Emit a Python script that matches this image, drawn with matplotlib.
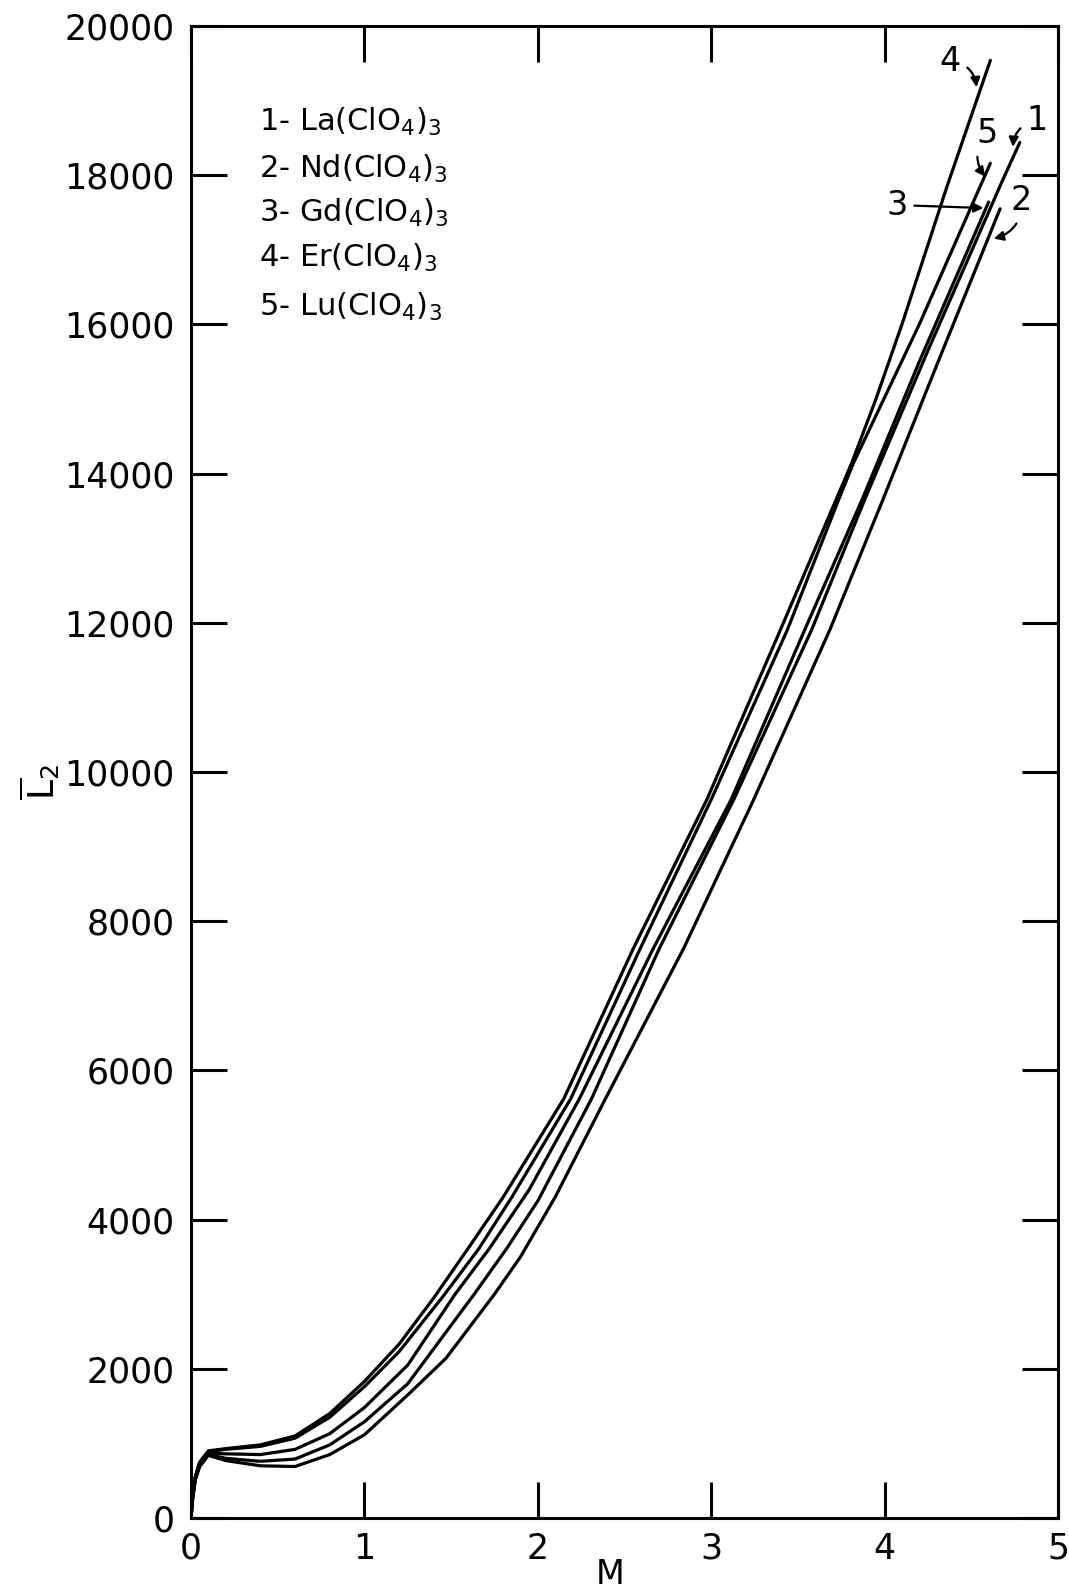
import matplotlib
matplotlib.use("Agg")
import matplotlib.pyplot as plt

plt.rcParams['font.family'] = ['DejaVu Sans']
plt.rcParams['mathtext.fontset'] = 'dejavusans'

# values (M vs partial molal L2)
m_la = [0, 0.01, 0.025, 0.05, 0.1, 0.2, 0.4, 0.6, 0.8, 1.0, 1.25, 1.63, 1.82, 2.0, 2.31, 2.70, 3.13, 3.58, 3.885, 4.25, 4.68, 4.78]
l2_la = [0, 280, 520, 700, 850, 800, 760, 790, 980, 1290, 1800, 2990, 3610, 4250, 5620, 7630, 9630, 11910, 13650, 15650, 17930, 18440]

m_nd = [0, 0.01, 0.025, 0.05, 0.1, 0.2, 0.4, 0.6, 0.8, 1.0, 1.25, 1.47, 1.75, 1.90, 2.1, 2.39, 2.84, 3.245, 3.685, 3.99, 4.3, 4.666]
l2_nd = [0, 270, 510, 690, 840, 770, 700, 690, 850, 1115, 1650, 2140, 3000, 3500, 4300, 5620, 7630, 9630, 11910, 13650, 15450, 17550]

m_gd = [0, 0.01, 0.025, 0.05, 0.1, 0.2, 0.4, 0.6, 0.8, 1.0, 1.25, 1.52, 1.72, 1.95, 2.24, 2.665, 3.115, 3.54, 3.87, 4.2, 4.60]
l2_gd = [0, 290, 530, 720, 870, 860, 850, 920, 1130, 1480, 2050, 2990, 3610, 4400, 5620, 7630, 9630, 11910, 13650, 15500, 17640]

m_er = [0, 0.01, 0.025, 0.05, 0.1, 0.2, 0.4, 0.6, 0.8, 1.0, 1.2, 1.4, 1.6, 1.8, 2.15, 2.55, 2.975, 3.40, 3.72, 3.81, 3.95, 4.1, 4.36, 4.61]
l2_er = [0, 310, 560, 750, 900, 930, 980, 1100, 1400, 1830, 2330, 2950, 3620, 4300, 5620, 7630, 9630, 11910, 13650, 14140, 15000, 16000, 17850, 19540]

m_lu = [0, 0.01, 0.025, 0.05, 0.1, 0.2, 0.4, 0.6, 0.8, 1.0, 1.2, 1.45, 1.66, 1.85, 2.19, 2.59, 3.00, 3.44, 3.735, 3.82, 4.2, 4.61]
l2_lu = [0, 300, 550, 740, 890, 920, 960, 1070, 1350, 1760, 2230, 2960, 3610, 4300, 5620, 7630, 9630, 11910, 13650, 14140, 16000, 18160]

legend_lines = [r"1- La(ClO$_4$)$_3$", r"2- Nd(ClO$_4$)$_3$", r"3- Gd(ClO$_4$)$_3$",
                r"4- Er(ClO$_4$)$_3$", r"5- Lu(ClO$_4$)$_3$"]
legend_y = [18600, 17970, 17370, 16770, 16120]

x_ticks = [0, 1, 2, 3, 4, 5]
y_ticks = list(range(0, 20001, 2000))

fig = plt.figure(figsize=(10.69, 15.95), dpi=100)
ax = fig.add_axes([191 / 1069, 1 - 1518 / 1595, 867 / 1069, 1492 / 1595])

for m, l2 in [(m_la, l2_la), (m_nd, l2_nd), (m_gd, l2_gd), (m_er, l2_er), (m_lu, l2_lu)]:
    ax.plot(m, l2, color='black', lw=2.3, solid_joinstyle='round', solid_capstyle='round')

ax.set_xlim(0, 5)
ax.set_ylim(0, 20000)
ax.set_xticks(x_ticks)
ax.set_yticks(y_ticks)
ax.tick_params(direction='in', length=26, width=2.2, labelsize=25,
               top=True, right=True, pad=10)
ax.tick_params(axis='y', pad=12)
for s in ax.spines.values():
    s.set_linewidth(2.2)

for txt, yy in zip(legend_lines, legend_y):
    ax.text(0.39, yy, txt, fontsize=22, ha='left', va='baseline')

arrow = dict(arrowstyle='-|>', lw=1.6, color='black', mutation_scale=14, shrinkA=3, shrinkB=0)
ax.annotate("4", xy=(4.53, 19180), xytext=(4.38, 19530), fontsize=24, ha='center', va='center',
            arrowprops=dict(arrow, connectionstyle='arc3,rad=-0.4'))
ax.annotate("5", xy=(4.58, 17980), xytext=(4.59, 18560), fontsize=24, ha='center', va='center',
            arrowprops=dict(arrow, connectionstyle='arc3,rad=0.4'))
ax.annotate("1", xy=(4.74, 18380), xytext=(4.88, 18730), fontsize=24, ha='center', va='center',
            arrowprops=dict(arrow, connectionstyle='arc3,rad=0.4'))
ax.annotate("3", xy=(4.57, 17560), xytext=(4.07, 17600), fontsize=24, ha='center', va='center',
            arrowprops=dict(arrow))
ax.annotate("2", xy=(4.63, 17150), xytext=(4.79, 17660), fontsize=24, ha='center', va='center',
            arrowprops=dict(arrow, connectionstyle='arc3,rad=-0.4'))

fig.text(610 / 1069, 1 - 1574 / 1595, "M", fontsize=24, ha='center', va='center')
fig.text(40 / 1069, 1 - 782 / 1595, r"$\overline{\mathrm{L}}_2$", fontsize=26,
         rotation=90, ha='center', va='center')

fig.savefig("out.png", dpi=100)
